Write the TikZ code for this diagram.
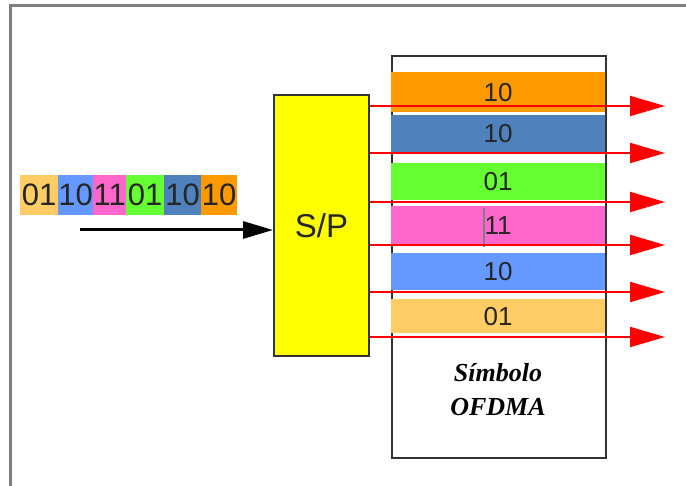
\documentclass[tikz,border=0pt]{standalone}
\usepackage{fontspec}
\setmainfont{Liberation Sans}
\newfontfamily\serifbi{Liberation Serif}
\usetikzlibrary{arrows.meta}
\definecolor{cOrange}{HTML}{FF9900}
\definecolor{cDBlue}{HTML}{4F81BD}
\definecolor{cGreen}{HTML}{66FF33}
\definecolor{cPink}{HTML}{FF66CC}
\definecolor{cLBlue}{HTML}{6699FF}
\definecolor{cLOrange}{HTML}{FFCC66}
\definecolor{cYellow}{HTML}{FFFF00}
\definecolor{cFrame}{HTML}{7F7F7F}
\tikzset{
  band/.style={rectangle, inner sep=0pt, minimum width=214pt, anchor=north west,
     font=\fontsize{26}{26}\selectfont, text=black!85},
  bit/.style={rectangle, inner sep=0pt, minimum height=40pt, anchor=north west,
     font=\fontsize{31}{31}\selectfont, text=black!85},
  redarrow/.style={draw=red, line width=2pt, -{Triangle[length=35pt,width=20pt]}},
  blackarrow/.style={draw=black, line width=3pt, -{Triangle[length=30pt,width=17pt]}},
}
\begin{document}
\begin{tikzpicture}[x=1pt,y=-1pt]
\useasboundingbox (0,0) rectangle (686,486);
\begin{scope}
\clip (0,0) rectangle (686,486);
\draw[cFrame, line width=3pt] (10,520) -- (10,6) -- (720,6);
\end{scope}
% OFDMA box
\node[draw=black!80, line width=2pt, rectangle, inner sep=0pt, minimum width=214pt, minimum height=402pt, anchor=north west] (ofdma) at (391,55) {};
% bands
\node[band, fill=cOrange, minimum height=40pt] (b1) at (391,72) {10};
\node[band, fill=cDBlue, minimum height=37pt] (b2) at (391,115) {10};
\node[band, fill=cGreen, minimum height=37pt] (b3) at (391,163) {01};
\node[band, fill=cPink, minimum height=38pt] (b4) at (391,206) {11};
\node[band, fill=cLBlue, minimum height=37pt] (b5) at (391,253) {10};
\node[band, fill=cLOrange, minimum height=34pt] (b6) at (391,299) {01};
\draw[black!50, line width=1.5pt] (484,208) coordinate (cur1) -- (484,247) coordinate (cur2);
% label
\node[align=center, font=\serifbi\bfseries\itshape\fontsize{26}{34}\selectfont] (lbl) at (498,390) {Símbolo\\OFDMA};
% S/P
\node[draw=black!80, line width=2pt, fill=cYellow, rectangle, inner sep=0pt, minimum width=95pt, minimum height=261pt, anchor=north west, font=\fontsize{33}{33}\selectfont, text=black!85] (sp) at (273,94) {S/P};
% input bits
\node[bit, fill=cLOrange, minimum width=38pt] (i1) at (20,175) {01};
\node[bit, fill=cLBlue, minimum width=35pt] (i2) at (58,175) {10};
\node[bit, fill=cPink, minimum width=33pt] (i3) at (93,175) {11};
\node[bit, fill=cGreen, minimum width=38pt] (i4) at (126,175) {01};
\node[bit, fill=cDBlue, minimum width=37pt] (i5) at (164,175) {10};
\node[bit, fill=cOrange, minimum width=36pt] (i6) at (201,175) {10};
\coordinate (in) at (80,230);
\draw[blackarrow] (in) -- (sp.west |- in);
% red arrows
\foreach \i/\y in {1/106,2/153,3/202,4/245,5/292,6/337}{
  \coordinate (o\i) at (665,\y);
  \draw[redarrow] (sp.east |- o\i) -- (o\i);
}
\end{tikzpicture}
\end{document}
